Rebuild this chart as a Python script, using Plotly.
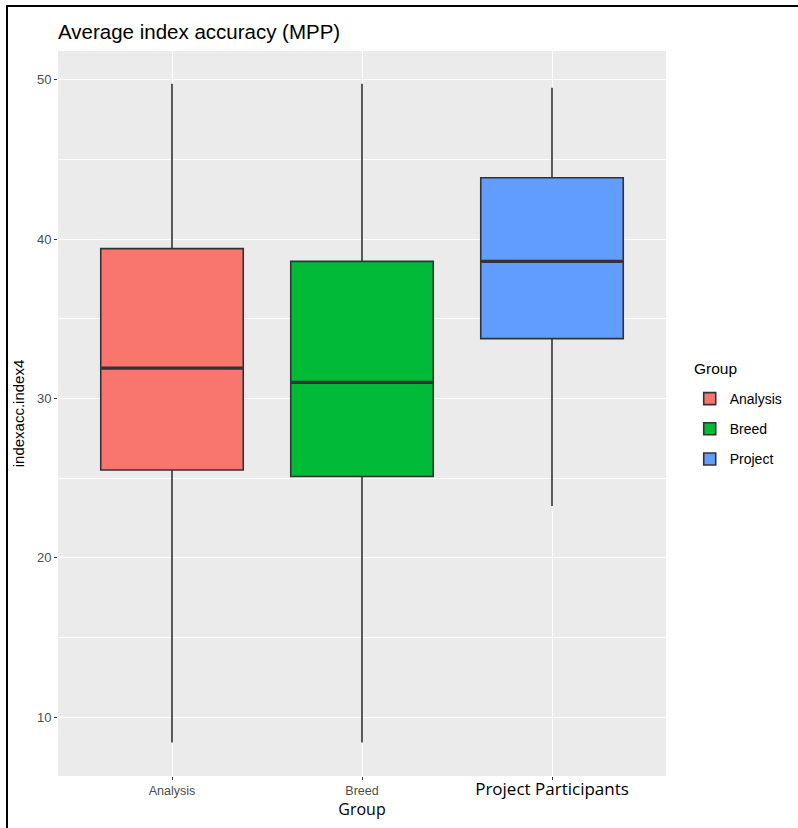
import plotly.graph_objects as go

categories = ["Analysis", "Breed", "Project Participants"]
legend_names = ["Analysis", "Breed", "Project"]
colors = ["#F8766D", "#00BA38", "#619CFF"]
lower = [8.4, 8.4, 23.25]
q1 = [25.5, 25.1, 33.75]
median = [31.9, 31.0, 38.6]
q3 = [39.4, 38.6, 43.85]
upper = [49.75, 49.75, 49.5]
y_ticks = [10, 20, 30, 40, 50]

FONT = "Liberation Sans, Arial, sans-serif"
BOX_W = 0.75

fig = go.Figure()
for i, cat in enumerate(categories):
    fig.add_trace(go.Box(
        x=[i], q1=[q1[i]], median=[median[i]], q3=[q3[i]],
        lowerfence=[lower[i]], upperfence=[upper[i]],
        name=legend_names[i], legendgroup=legend_names[i], fillcolor=colors[i],
        line=dict(color="#333333", width=1.6),
        whiskerwidth=0, width=BOX_W, boxpoints=False,
        hoverinfo="skip",
    ))
# thicker median bars as in ggplot
for i, cat in enumerate(categories):
    fig.add_trace(go.Scatter(
        x=[i - BOX_W / 2 + 0.004, i + BOX_W / 2 - 0.004], y=[median[i], median[i]],
        mode="lines", line=dict(color="#333333", width=3.2),
        showlegend=False, hoverinfo="skip",
    ))

ticktext = [
    "Analysis",
    "Breed",
    "<span style='color:#000000;font-family:Open Sans;font-size:17px'>Project Participants</span>",
]

W, H = 608, 725

fig.update_layout(
    width=798, height=828,
    margin=dict(l=58, r=132, t=51, b=52, autoexpand=False),
    paper_bgcolor="white", plot_bgcolor="#EBEBEB",
    font=dict(family=FONT, color="#4D4D4D"),
    boxmode="overlay",
    title=dict(text="Average index accuracy (MPP)", x=58/798, xanchor="left",
               y=1-32/828, yanchor="middle",
               font=dict(size=20.5, color="#000000", family=FONT)),
    legend=dict(x=1.039, xanchor="left", y=(776-383)/H, yanchor="top",
                font=dict(size=14, color="#000000"),
                bgcolor="rgba(0,0,0,0)", tracegroupgap=9),
    xaxis=dict(
        tickmode="array", tickvals=list(range(len(categories))), ticktext=ticktext,
        range=[-0.6, 2.6], showgrid=True, gridcolor="white", gridwidth=1.2,
        zeroline=False, ticks="outside", ticklen=3, tickcolor="#333333",
        tickfont=dict(size=12.5, color="#4D4D4D"),
        title=dict(text="Group", font=dict(size=16, color="#000000", family="Open Sans"),
                   standoff=2),
    ),
    yaxis=dict(
        tickvals=y_ticks, range=[6.3, 51.8], showgrid=True, gridcolor="white",
        gridwidth=1.2, zeroline=False, ticks="outside", ticklen=3,
        tickcolor="#333333", tickfont=dict(size=13, color="#4D4D4D"),
        minor=dict(dtick=5, tick0=0, showgrid=True, gridcolor="white", gridwidth=0.6),
        title=dict(text="indexacc.index4", font=dict(size=15, color="#000000"),
                   standoff=8),
    ),
)

# legend title
fig.add_annotation(text="Group", xref="paper", yref="paper",
                   x=(692-58)/W, y=(776-368)/H, xanchor="left", yanchor="middle",
                   showarrow=False, font=dict(size=15.5, color="#000000", family=FONT))

# image border (left and top)
fig.add_shape(type="line", xref="paper", yref="paper",
              x0=(7-58)/W, x1=(7-58)/W, y0=(776-6)/H, y1=(776-828)/H,
              line=dict(color="black", width=2))
fig.add_shape(type="line", xref="paper", yref="paper",
              x0=(6-58)/W, x1=(798-58)/W, y0=(776-6)/H, y1=(776-6)/H,
              line=dict(color="black", width=2))

fig.write_html("out.html")
